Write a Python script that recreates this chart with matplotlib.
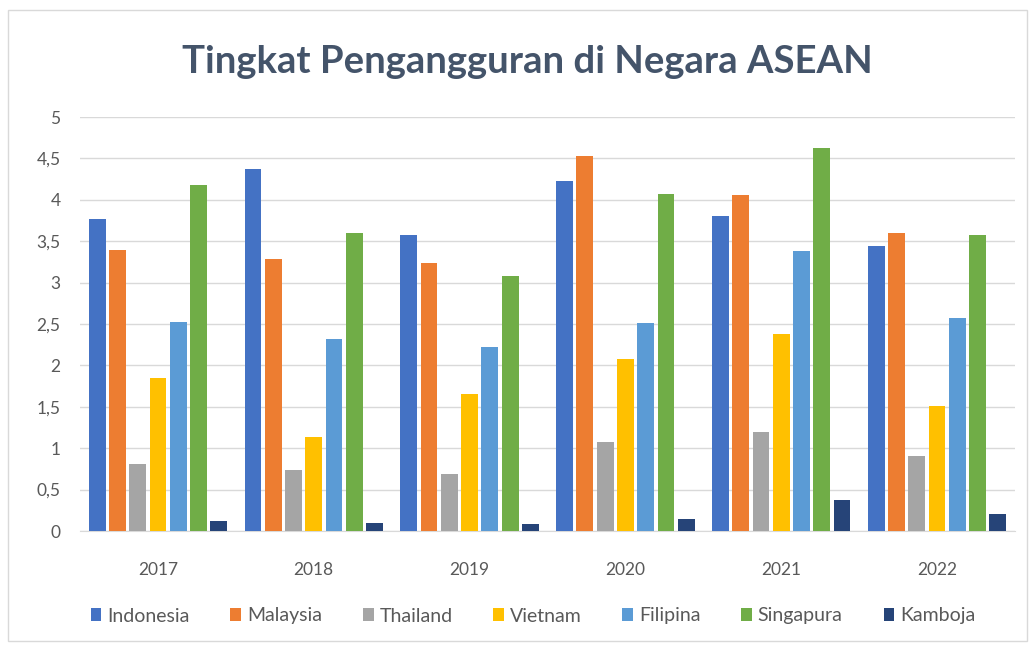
import numpy as np
import matplotlib
matplotlib.use("Agg")
import matplotlib.pyplot as plt
from matplotlib.patches import Rectangle

plt.rcParams['font.family'] = ['Lato', 'DejaVu Sans']

years = ["2017", "2018", "2019", "2020", "2021", "2022"]
countries = ["Indonesia", "Malaysia", "Thailand", "Vietnam", "Filipina", "Singapura", "Kamboja"]

indonesia = [3.77, 4.37, 3.58, 4.23, 3.81, 3.44]
malaysia = [3.39, 3.29, 3.24, 4.53, 4.06, 3.60]
thailand = [0.81, 0.74, 0.69, 1.08, 1.19, 0.91]
vietnam = [1.85, 1.14, 1.65, 2.08, 2.38, 1.51]
filipina = [2.52, 2.32, 2.22, 2.51, 3.38, 2.57]
singapura = [4.18, 3.60, 3.08, 4.07, 4.62, 3.58]
kamboja = [0.12, 0.10, 0.09, 0.15, 0.37, 0.20]

series = [indonesia, malaysia, thailand, vietnam, filipina, singapura, kamboja]
colors = ["#4472C4", "#ED7D31", "#A5A5A5", "#FFC000", "#5B9BD5", "#70AD47", "#264478"]

fig = plt.figure(figsize=(10.35, 6.47), dpi=100)
ax = fig.add_axes([80/1035, 1 - 531/647, 935/1035, (531-117)/647])

x = np.arange(len(years))
step = 0.13
width = 0.108
for i, (name, vals, c) in enumerate(zip(countries, series, colors)):
    ax.bar(x + (i - 3) * step, vals, width, color=c, label=name, zorder=3)

ax.set_xlim(-0.5, len(years) - 0.5)
ax.set_ylim(0, 5)
ticks = np.arange(0, 5.01, 0.5)
ax.set_yticks(ticks)
ax.set_yticklabels([("%g" % t).replace(".", ",") for t in ticks])
ax.set_xticks(x)
ax.set_xticklabels(years)
ax.tick_params(axis="both", length=0, labelsize=12.5, colors="#595959")
ax.tick_params(axis="x", pad=22)
ax.tick_params(axis="y", pad=14)
ax.grid(axis="y", color="#D9D9D9", linewidth=1, zorder=0)
for s in ["top", "right", "left"]:
    ax.spines[s].set_visible(False)
ax.spines["bottom"].set_color("#D9D9D9")

fig.text(0.51, 1 - 62/647, "Tingkat Pengangguran di Negara ASEAN", ha="center", va="center",
         fontsize=27.5, fontweight="bold", color="#44546A")

fig.legend(loc="center", bbox_to_anchor=(0.515, 1 - 616/647), ncol=7, frameon=False,
           fontsize=14, handlelength=0.55, handleheight=0.6, handletextpad=0.3,
           columnspacing=2.1, labelcolor="#595959")

fig.patches.append(Rectangle((0.008, 0.01), 0.984, 0.975, transform=fig.transFigure,
                             fill=False, edgecolor="#D9D9D9", linewidth=1))

fig.savefig("out.png", dpi=100)
